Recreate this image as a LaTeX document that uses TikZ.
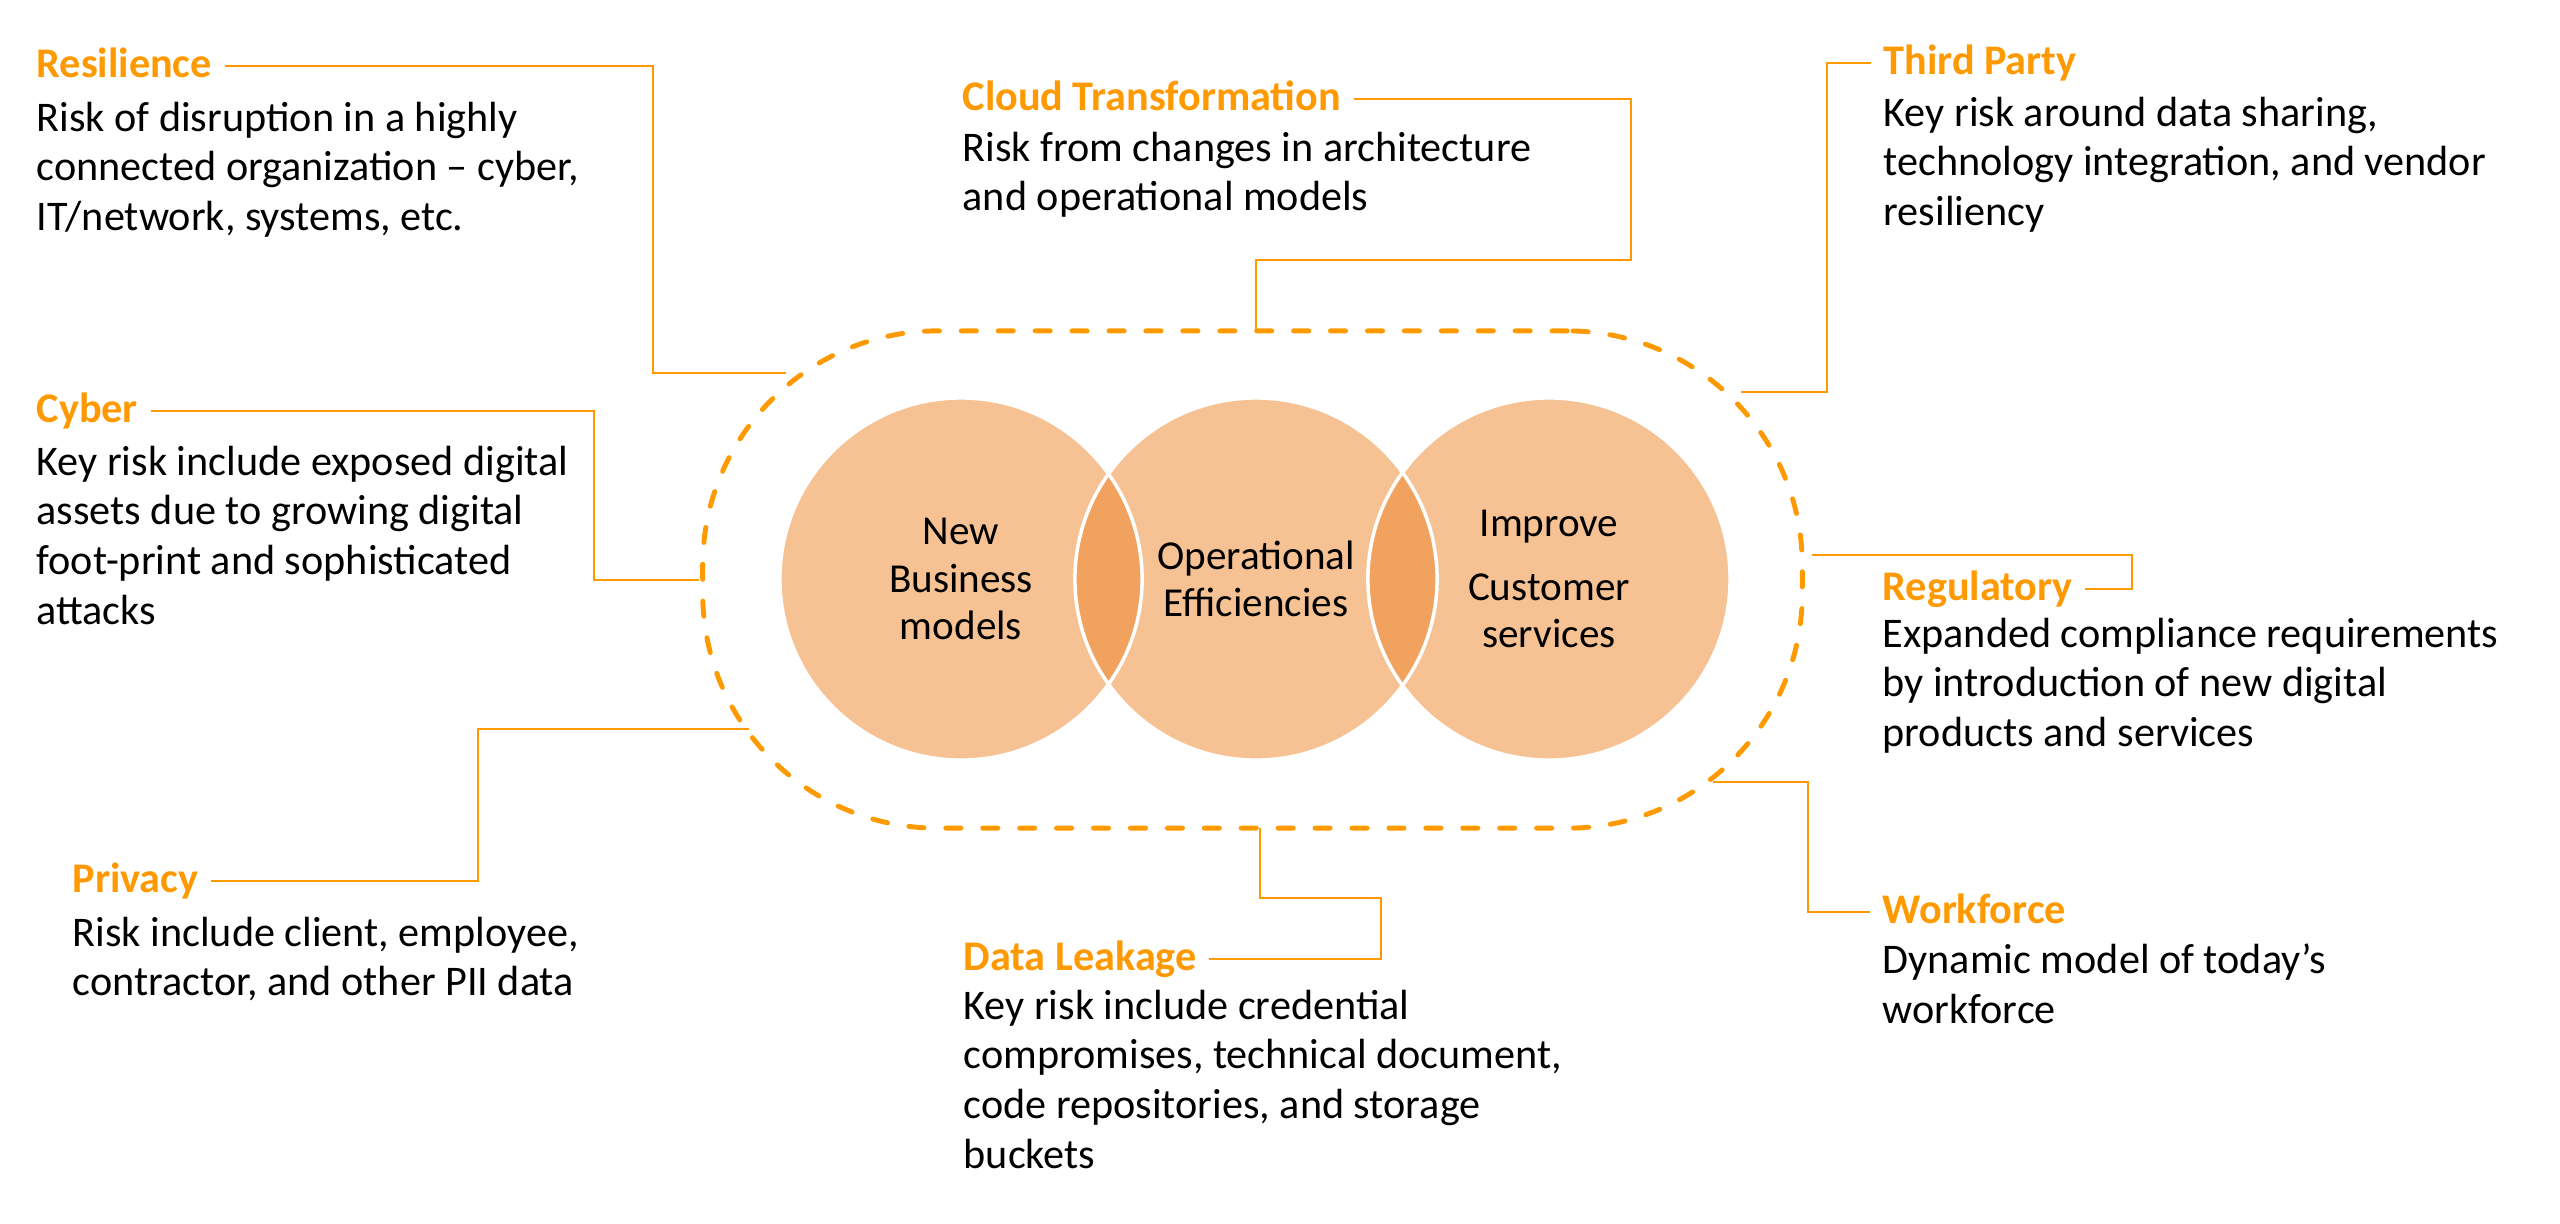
\documentclass[tikz,border=0pt]{standalone}
\usepackage{fontspec}
\setmainfont{Carlito}
\usetikzlibrary{positioning}
\definecolor{RiskOrange}{HTML}{FF9900}
\definecolor{VennPeach}{HTML}{F6C293}
\definecolor{VennDeep}{HTML}{F0A25E}
\tikzset{
  risktitle/.style={anchor=base west, inner sep=0pt, text height=0.22cm, text depth=0pt, font=\fontsize{12}{14.2}\selectfont\bfseries, text=RiskOrange},
  riskbody/.style={anchor=north west, inner sep=0pt, align=left, font=\fontsize{12}{14.2}\selectfont, execute at begin node={\rule{0pt}{0.35cm}}},
  venn/.style={circle, minimum size=3.62cm, inner sep=0pt, fill=VennPeach},
  venntext/.style={align=center, inner sep=0pt, font=\fontsize{11.7}{13.4}\selectfont},
  riskframe/.style={draw=RiskOrange, line width=1.4pt, dash pattern=on 4.3pt off 6.2pt, line cap=round, rounded corners=2.35cm, minimum width=10.99cm, minimum height=4.97cm, inner sep=0pt},
  link/.style={draw=RiskOrange, line width=0.8pt, shorten <=0.12cm},
}
\begin{document}
\begin{tikzpicture}[x=0.01cm, y=-0.01cm]
  \useasboundingbox (0,0) rectangle (2560,1223);

  % the three goals
  \node[riskframe] (frame) at (1252.5,579.5) {};
  \node[venn] (nbm) at (961,579) {};
  \node[venn] (ope) at (1256,579) {};
  \node[venn] (ics) at (1549,579) {};
  \begin{scope}
    \clip (nbm.center) circle (1.81cm);
    \fill[VennDeep] (ope.center) circle (1.81cm);
  \end{scope}
  \begin{scope}
    \clip (ope.center) circle (1.81cm);
    \fill[VennDeep] (ics.center) circle (1.81cm);
  \end{scope}
  \foreach \c in {nbm,ope,ics}
    \draw[white, line width=1pt] (\c.center) circle (1.81cm);
  \node[venntext] (nbmtext) at (nbm) {New\\Business\\models};
  \node[venntext] (opetext) at (ope) {Operational\\Efficiencies};
  \node[venntext] (icstext) at (ics) {Improve\\[0.17cm]Customer\\services};

  % risk areas
  \node[risktitle] (res) at (36,77) {Resilience};
  \node[riskbody] (resbody) at (36,101) {Risk of disruption in a highly\\connected organization -- cyber,\\IT/network, systems, etc.};
  \node[risktitle] (cyb) at (36,422) {Cyber};
  \node[riskbody] (cybbody) at (36,445) {Key risk include exposed digital\\assets due to growing digital\\foot-print and sophisticated\\attacks};
  \node[risktitle] (pri) at (72,892) {Privacy};
  \node[riskbody] (pribody) at (72,916) {Risk include client, employee,\\contractor, and other PII data};
  \node[risktitle] (cld) at (962,110) {Cloud Transformation};
  \node[riskbody] (cldbody) at (962,131) {Risk from changes in architecture\\and operational models};
  \node[risktitle] (tpy) at (1883,74) {Third Party};
  \node[riskbody] (tpybody) at (1883,96) {Key risk around data sharing,\\technology integration, and vendor\\resiliency};
  \node[risktitle] (reg) at (1882,600) {Regulatory};
  \node[riskbody] (regbody) at (1882,617) {Expanded compliance requirements\\by introduction of new digital\\products and services};
  \node[risktitle] (wrk) at (1882,923) {Workforce};
  \node[riskbody] (wrkbody) at (1882,943) {Dynamic model of today’s\\workforce};
  \node[risktitle] (dlk) at (963,970) {Data Leakage};
  \node[riskbody] (dlkbody) at (963,989) {Key risk include credential\\compromises, technical document,\\code repositories, and storage\\buckets};

  % connectors to the frame
  \coordinate (resbend) at (653,373);   \coordinate (resend) at (786,373);
  \coordinate (cybbend) at (594,580);   \coordinate (cybend) at (699,580);
  \coordinate (pribend) at (478,729);   \coordinate (priend) at (749,729);
  \coordinate (cldbend) at (1631,260);  \coordinate (cldend) at (1256,331);
  \coordinate (tpybend) at (1827,392);  \coordinate (tpyend) at (1741,392);
  \coordinate (regbend) at (2132,555);  \coordinate (regend) at (1812,555);
  \coordinate (wrkbend) at (1808,782);  \coordinate (wrkend) at (1713,782);
  \coordinate (dlkbend) at (1381,898);  \coordinate (dlkend) at (1260,828);
  \draw[link] (res.east) -| (resbend) -- (resend);
  \draw[link] (cyb.east) -| (cybbend) -- (cybend);
  \draw[link] (pri.east) -| (pribend) -- (priend);
  \draw[link] (cld.east) -| (cldbend) -| (cldend);
  \draw[link] (tpy.west) -| (tpybend) -- (tpyend);
  \draw[link] (reg.east) -| (regbend) -- (regend);
  \draw[link] (wrk.west) -| (wrkbend) -- (wrkend);
  \draw[link] (dlk.east) -| (dlkbend) -| (dlkend);
\end{tikzpicture}
\end{document}
